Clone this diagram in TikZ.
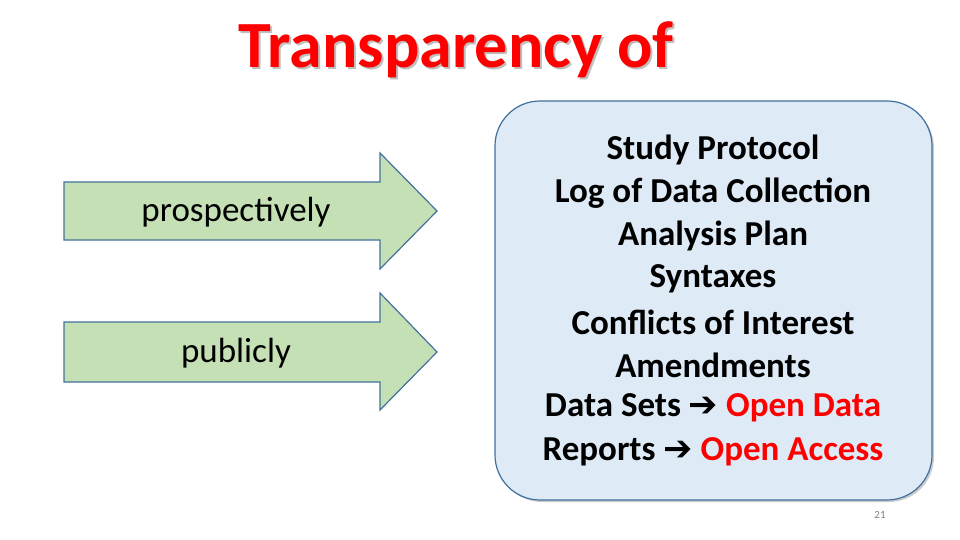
\documentclass[tikz,border=0pt]{standalone}
\usepackage{fontspec}
\setmainfont{Carlito}
\newfontfamily\symfont{DejaVu Sans}
\usetikzlibrary{shadows}
\definecolor{arrowfill}{HTML}{C5E0B4}
\definecolor{boxfill}{HTML}{DEEBF7}
\definecolor{edge}{HTML}{41719C}
\definecolor{titlered}{HTML}{FF0000}
\newcommand{\goesto}{{\symfont\bfseries ➔}}
\begin{document}
\begin{tikzpicture}[x=1pt,y=-1pt,
    every node/.style={inner sep=0pt},
    arrowbox/.style={draw=edge, line width=1.2pt, fill=arrowfill},
    listbox/.style={draw=edge, line width=1.2pt, fill=boxfill, rounded corners=45pt,
      drop shadow={shadow xshift=2pt, shadow yshift=-2pt, opacity=.4}},
    item/.style={font=\fontsize{35}{40}\selectfont\bfseries},
    ]
\useasboundingbox (0,0) rectangle (960,540);
% title
\node[font=\fontsize{66}{70}\selectfont\bfseries, text=gray!50] at (458,52) {Transparency of};
\node[font=\fontsize{66}{70}\selectfont\bfseries, text=titlered] (title) at (456,50) {Transparency of};
% arrows
\draw[arrowbox] (64,182) -- (380,182) -- (380,153) -- (437,211) -- (380,269) -- (380,240) -- (64,240) -- cycle;
\node[font=\fontsize{35}{40}\selectfont] (pro) at (236,212) {prospectively};
\draw[arrowbox] (64,322) -- (380,322) -- (380,293) -- (437,352) -- (380,410) -- (380,382) -- (64,382) -- cycle;
\node[font=\fontsize{35}{40}\selectfont] (pub) at (236,353) {publicly};
% list
\draw[listbox] (495,101) rectangle (932,500);
\foreach \t [count=\i from 0] in {Study Protocol, Log of Data Collection, Analysis Plan,
    Syntaxes, Conflicts of Interest, Amendments}
  \node[item] (l\i) at (713,150+43*\i) {\t};
\node[item] (l6) at (713,408) {Data Sets \goesto{} \textcolor{titlered}{Open Data}};
\node[item] (l7) at (713,452) {Reports \goesto{} \textcolor{titlered}{Open Access}};
\node[font=\fontsize{11}{13}\selectfont, text=gray] (page) at (880,515) {21};
\end{tikzpicture}
\end{document}
